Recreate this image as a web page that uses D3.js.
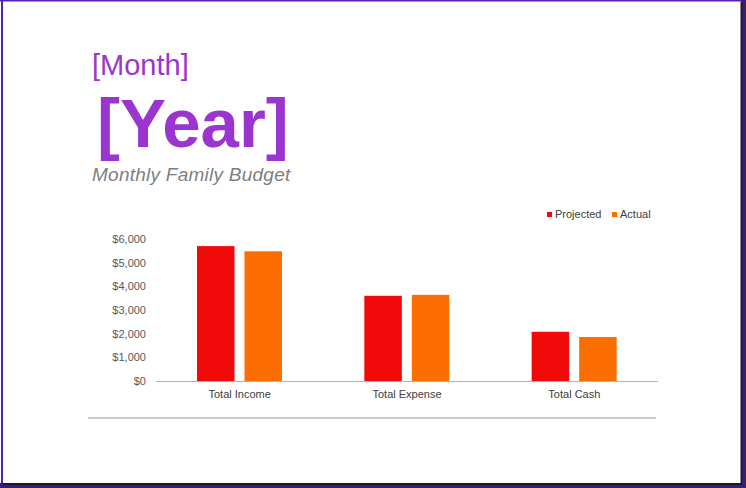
<!DOCTYPE html>
<html>
<head>
<meta charset="utf-8">
<script src="https://cdn.jsdelivr.net/npm/d3@7"></script>
<style>
  body { margin: 0; background: #fff; }
  svg { display: block; font-family: "Liberation Sans", Arial, sans-serif; }
</style>
</head>
<body>
<div id="chart"></div>
<script>
// data
const categories = ['Total Income', 'Total Expense', 'Total Cash'];
const seriesNames = ['Projected', 'Actual'];
const projected = [5700, 3600, 2080];
const actual = [5480, 3640, 1860];
const yTicks = [0, 1000, 2000, 3000, 4000, 5000, 6000];
const colors = ['#f00a0a', '#fd6e00'];

const width = 746, height = 488;

const svg = d3.select('#chart').append('svg')
  .attr('width', width)
  .attr('height', height);

// page frame
svg.append('rect').attr('x', 0).attr('y', 0).attr('width', width).attr('height', height).attr('fill', '#fefefe');
svg.append('rect').attr('x', 1).attr('y', 0).attr('width', 2).attr('height', height).attr('fill', '#5a1fb0');
svg.append('rect').attr('x', 0).attr('y', 0).attr('width', width).attr('height', 1.5).attr('fill', '#5a1fb0');
svg.append('rect').attr('x', 741).attr('y', 0).attr('width', 5).attr('height', height).attr('fill', '#3a1a86');
svg.append('rect').attr('x', 0).attr('y', 483).attr('width', width).attr('height', 5).attr('fill', '#3a1a86');
svg.append('rect').attr('x', 740.5).attr('y', 2).attr('width', 2).attr('height', 483).attr('fill', '#1c1c1c');
svg.append('rect').attr('x', 3).attr('y', 483).attr('width', 739).attr('height', 2).attr('fill', '#1c1c1c');

// titles
svg.append('text').attr('x', 92).attr('y', 75)
  .attr('font-size', 29).attr('fill', '#9a36cf').text('[Month]');
svg.append('text').attr('x', 97).attr('y', 147)
  .attr('font-size', 69).attr('font-weight', 'bold').attr('fill', '#9a36cf').text('[Year]');
svg.append('text').attr('x', 92).attr('y', 181)
  .attr('font-size', 19).attr('letter-spacing', 0.25).attr('font-style', 'italic').attr('fill', '#7f7f7f').text('Monthly Family Budget');

// scales
const x0 = d3.scaleBand().domain(categories).range([156, 658]);
const x1 = d3.scaleBand().domain(seriesNames).range([41, 126]).paddingInner(0.21);
const y = d3.scaleLinear().domain([0, 6000]).range([381, 239]);

// y axis (labels only)
const yAxis = d3.axisLeft(y).tickValues(yTicks).tickSize(0).tickPadding(0)
  .tickFormat(d => '$' + d3.format(',')(d));
svg.append('g').attr('class', 'y-axis')
  .attr('transform', 'translate(146,0)')
  .call(yAxis)
  .call(g => g.select('.domain').remove())
  .call(g => g.selectAll('text').attr('font-size', 11).attr('fill', '#595959').attr('font-family', null));

// bars
const rows = categories.map((c, i) => ({ cat: c, values: [projected[i], actual[i]] }));
const groups = svg.append('g').selectAll('g').data(rows).enter().append('g')
  .attr('transform', d => `translate(${x0(d.cat)},0)`);
groups.selectAll('rect')
  .data(d => d.values.map((v, j) => ({ name: seriesNames[j], value: v, color: colors[j] })))
  .enter().append('rect')
  .attr('x', d => x1(d.name))
  .attr('y', d => y(d.value))
  .attr('width', x1.bandwidth())
  .attr('height', d => y(0) - y(d.value))
  .attr('fill', d => d.color);

// x axis
const xAxis = d3.axisBottom(x0).tickSize(0).tickPadding(9);
svg.append('g').attr('class', 'x-axis')
  .attr('transform', `translate(0,${y(0)})`)
  .call(xAxis)
  .call(g => g.select('.domain').attr('stroke', '#b3b3b3').attr('d', 'M156,0.5H658'))
  .call(g => g.selectAll('text').attr('font-size', 11).attr('fill', '#404040').attr('font-family', null));

// legend
const legendX = [547, 612];
const legend = svg.append('g').selectAll('g').data(seriesNames).enter().append('g')
  .attr('transform', (d, i) => `translate(${legendX[i]},211)`);
legend.append('rect').attr('width', 5).attr('height', 5).attr('y', 1).attr('fill', (d, i) => colors[i]);
legend.append('text').attr('x', 8).attr('y', 7).attr('font-size', 11).attr('fill', '#404040').text(d => d);

// bottom rule
svg.append('line').attr('x1', 88).attr('x2', 656).attr('y1', 418).attr('y2', 418)
  .attr('stroke', '#999').attr('stroke-width', 1.2);
</script>
</body>
</html>
